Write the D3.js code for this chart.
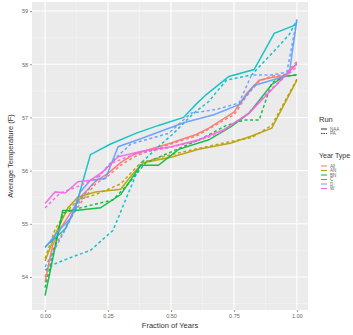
<!DOCTYPE html>
<html>
<head>
<meta charset="utf-8">
<script src="https://d3js.org/d3.v7.min.js"></script>
<style>
  body { margin: 0; background: #fff; }
  svg { display: block; font-family: "Liberation Sans", Arial, sans-serif; }
</style>
</head>
<body>
<svg id="chart"></svg>
<script>
// year types and runs (legend order)
var yearTypes = ["All", "AN", "BN", "C", "D", "W"];
var runs = ["NAA", "PA"];
var typeColors = ["#F8766D", "#B79F00", "#00BA38", "#00BFC4", "#619CFF", "#F564E3"];

var xTicks = [0, 0.25, 0.5, 0.75, 1];
var xTickLabels = ["0.00", "0.25", "0.50", "0.75", "1.00"];
var yTicks = [54, 55, 56, 57, 58, 59];

// [fraction of years, average temperature]
var allNAA = [[0,53.9],[0.03,54.6],[0.06,54.9],[0.1,55.2],[0.15,55.55],[0.2,55.8],[0.25,55.95],[0.3,56.15],[0.35,56.3],[0.4,56.38],[0.45,56.45],[0.5,56.52],[0.55,56.6],[0.6,56.68],[0.65,56.8],[0.7,56.95],[0.75,57.1],[0.8,57.45],[0.85,57.7],[0.9,57.75],[0.95,57.78],[1,58.0]];
var allPA = [[0,54.0],[0.03,54.5],[0.06,54.75],[0.1,55.1],[0.15,55.45],[0.2,55.75],[0.25,55.9],[0.3,56.1],[0.35,56.25],[0.4,56.35],[0.45,56.42],[0.5,56.5],[0.55,56.58],[0.6,56.65],[0.65,56.78],[0.7,56.92],[0.75,57.05],[0.8,57.4],[0.85,57.68],[0.9,57.78],[0.95,57.8],[1,58.05]];
var anNAA = [[0,54.3],[0.04,54.8],[0.09,55.3],[0.13,55.5],[0.2,55.6],[0.3,55.65],[0.35,55.95],[0.39,56.15],[0.5,56.25],[0.61,56.4],[0.74,56.52],[0.82,56.65],[0.9,56.8],[1,57.7]];
var anPA = [[0,54.35],[0.04,54.9],[0.08,55.2],[0.13,55.45],[0.2,55.55],[0.3,55.75],[0.38,56.15],[0.5,56.3],[0.61,56.42],[0.74,56.55],[0.82,56.62],[0.9,56.85],[1,57.72]];
var bnNAA = [[0,53.65],[0.07,55.25],[0.12,55.25],[0.22,55.3],[0.3,55.55],[0.38,56.1],[0.45,56.1],[0.53,56.4],[0.65,56.58],[0.74,56.83],[0.81,57.08],[0.9,57.62],[0.95,57.77],[1,57.8]];
var bnPA = [[0,53.8],[0.07,55.2],[0.14,55.3],[0.27,55.45],[0.33,55.75],[0.4,56.15],[0.5,56.35],[0.62,56.6],[0.72,56.85],[0.79,56.95],[0.85,56.95],[0.9,57.65],[0.95,57.78],[1,57.8]];
var cNAA = [[0,54.57],[0.08,54.9],[0.12,55.3],[0.18,56.3],[0.26,56.5],[0.36,56.7],[0.45,56.85],[0.55,57.0],[0.6,57.25],[0.64,57.43],[0.73,57.77],[0.83,57.9],[0.91,58.58],[1,58.75]];
var cPA = [[0,54.13],[0.04,54.25],[0.12,54.4],[0.18,54.5],[0.27,54.88],[0.33,55.57],[0.38,56.14],[0.45,56.45],[0.51,56.7],[0.59,57.08],[0.65,57.3],[0.72,57.7],[0.82,57.8],[0.9,58.2],[0.97,58.56],[1,58.84]];
var dNAA = [[0,54.55],[0.05,54.85],[0.1,55.1],[0.14,55.6],[0.18,55.82],[0.24,55.85],[0.29,56.45],[0.38,56.6],[0.55,56.9],[0.67,57.05],[0.77,57.24],[0.83,57.6],[0.93,57.74],[0.97,57.84],[1,58.84]];
var dPA = [[0,54.19],[0.07,54.8],[0.14,55.45],[0.25,56.1],[0.34,56.5],[0.49,56.7],[0.58,57.08],[0.68,57.15],[0.77,57.27],[0.82,57.8],[0.9,57.8],[0.96,57.85],[1,58.84]];
var wNAA = [[0,55.38],[0.04,55.6],[0.08,55.58],[0.13,55.79],[0.18,55.82],[0.23,55.98],[0.29,56.26],[0.38,56.36],[0.5,56.45],[0.61,56.58],[0.71,56.77],[0.81,57.08],[0.9,57.52],[1,58.02]];
var wPA = [[0,55.3],[0.06,55.58],[0.13,55.7],[0.2,55.85],[0.27,56.15],[0.36,56.32],[0.48,56.42],[0.6,56.55],[0.7,56.72],[0.8,57.05],[0.9,57.55],[1,57.95]];

var series = [
  {type: "All", run: "NAA", values: allNAA}, {type: "All", run: "PA", values: allPA},
  {type: "AN", run: "NAA", values: anNAA},   {type: "AN", run: "PA", values: anPA},
  {type: "BN", run: "NAA", values: bnNAA},   {type: "BN", run: "PA", values: bnPA},
  {type: "C", run: "NAA", values: cNAA},     {type: "C", run: "PA", values: cPA},
  {type: "D", run: "NAA", values: dNAA},     {type: "D", run: "PA", values: dPA},
  {type: "W", run: "NAA", values: wNAA},     {type: "W", run: "PA", values: wPA}
];

var W = 353, H = 335;
var panel = {left: 32, right: 308, top: 2, bottom: 310};

var svg = d3.select("#chart").attr("width", W).attr("height", H);

var x = d3.scaleLinear().domain([-0.052, 1.044]).range([panel.left, panel.right]);
var y = d3.scaleLinear().domain([53.38, 59.17]).range([panel.bottom, panel.top]);
var color = d3.scaleOrdinal().domain(yearTypes).range(typeColors);
var dash = d3.scaleOrdinal().domain(runs).range(["none", "3,2.5"]);

// soft blur so the lines look like the reference
var defs = svg.append("defs");
defs.append("filter").attr("id", "soft")
  .append("feGaussianBlur").attr("stdDeviation", 0.35);

// panel background
svg.append("rect")
  .attr("x", panel.left).attr("y", panel.top)
  .attr("width", panel.right - panel.left).attr("height", panel.bottom - panel.top)
  .attr("fill", "#EBEBEB");

// minor grid
var xMinor = [-0.125, 0.125, 0.375, 0.625, 0.875];
var yMinor = [53.5, 54.5, 55.5, 56.5, 57.5, 58.5];
svg.append("g").selectAll("line").data(xMinor.filter(function(d){ return x(d) > panel.left; }))
  .enter().append("line")
  .attr("x1", function(d){ return x(d); }).attr("x2", function(d){ return x(d); })
  .attr("y1", panel.top).attr("y2", panel.bottom)
  .attr("stroke", "#F5F5F5").attr("stroke-width", 0.6);
svg.append("g").selectAll("line").data(yMinor)
  .enter().append("line")
  .attr("x1", panel.left).attr("x2", panel.right)
  .attr("y1", function(d){ return y(d); }).attr("y2", function(d){ return y(d); })
  .attr("stroke", "#F5F5F5").attr("stroke-width", 0.6);

// major grid
svg.append("g").selectAll("line").data(xTicks)
  .enter().append("line")
  .attr("x1", function(d){ return x(d); }).attr("x2", function(d){ return x(d); })
  .attr("y1", panel.top).attr("y2", panel.bottom)
  .attr("stroke", "#fff").attr("stroke-width", 1.1);
svg.append("g").selectAll("line").data(yTicks)
  .enter().append("line")
  .attr("x1", panel.left).attr("x2", panel.right)
  .attr("y1", function(d){ return y(d); }).attr("y2", function(d){ return y(d); })
  .attr("stroke", "#fff").attr("stroke-width", 1.1);

// lines
var line = d3.line()
  .x(function(d){ return x(d[0]); })
  .y(function(d){ return y(d[1]); });

svg.append("g").attr("filter", "url(#soft)")
  .selectAll("path").data(series)
  .enter().append("path")
  .attr("d", function(d){ return line(d.values); })
  .attr("fill", "none")
  .attr("stroke", function(d){ return color(d.type); })
  .attr("stroke-dasharray", function(d){ return dash(d.run); })
  .attr("stroke-width", 1.5)
  .attr("opacity", 0.9);

// axes
var xAxis = svg.append("g")
  .attr("transform", "translate(0," + panel.bottom + ")")
  .call(d3.axisBottom(x).tickValues(xTicks).tickFormat(function(d, i){ return xTickLabels[i]; }).tickSize(2).tickPadding(2));
var yAxis = svg.append("g")
  .attr("transform", "translate(" + panel.left + ",0)")
  .call(d3.axisLeft(y).tickValues(yTicks).tickFormat(d3.format("d")).tickSize(2).tickPadding(2));
[xAxis, yAxis].forEach(function(a){
  a.select(".domain").remove();
  a.selectAll(".tick line").attr("stroke", "#555").attr("stroke-width", 0.6);
  a.selectAll(".tick text").attr("fill", "#666").style("font-size", "5.5px");
});

// axis titles
svg.append("text")
  .attr("x", (panel.left + panel.right) / 2).attr("y", 328)
  .attr("text-anchor", "middle")
  .attr("fill", "#333").style("font-size", "7.5px")
  .text("Fraction of Years");
svg.append("text")
  .attr("transform", "translate(13," + ((panel.top + panel.bottom) / 2) + ") rotate(-90)")
  .attr("text-anchor", "middle")
  .attr("fill", "#333").style("font-size", "7.5px")
  .text("Average Temperature (F)");

// legend: Run
var lg = svg.append("g");
lg.append("text").attr("x", 319).attr("y", 122)
  .attr("fill", "#333").style("font-size", "7.5px").text("Run");
runs.forEach(function(r, i){
  var yy = 129 + i * 4.5;
  lg.append("line").attr("x1", 321).attr("x2", 327).attr("y1", yy).attr("y2", yy)
    .attr("stroke", "#333").attr("stroke-width", 1)
    .attr("stroke-dasharray", r == "PA" ? "1.5,1" : null);
  lg.append("text").attr("x", 330).attr("y", yy + 1.6)
    .attr("fill", "#666").style("font-size", "4.5px").text(r);
});

// legend: Year Type (shrunk a little so it stays inside the page)
lg.append("text").attr("x", 319).attr("y", 158)
  .attr("fill", "#333").style("font-size", "7px").text("Year Type");
yearTypes.forEach(function(t, i){
  var yy = 166 + i * 4.5;
  lg.append("line").attr("x1", 321).attr("x2", 327).attr("y1", yy).attr("y2", yy)
    .attr("stroke", color(t)).attr("stroke-width", 1);
  lg.append("text").attr("x", 330).attr("y", yy + 1.6)
    .attr("fill", "#666").style("font-size", "4.5px").text(t);
});
</script>
</body>
</html>
